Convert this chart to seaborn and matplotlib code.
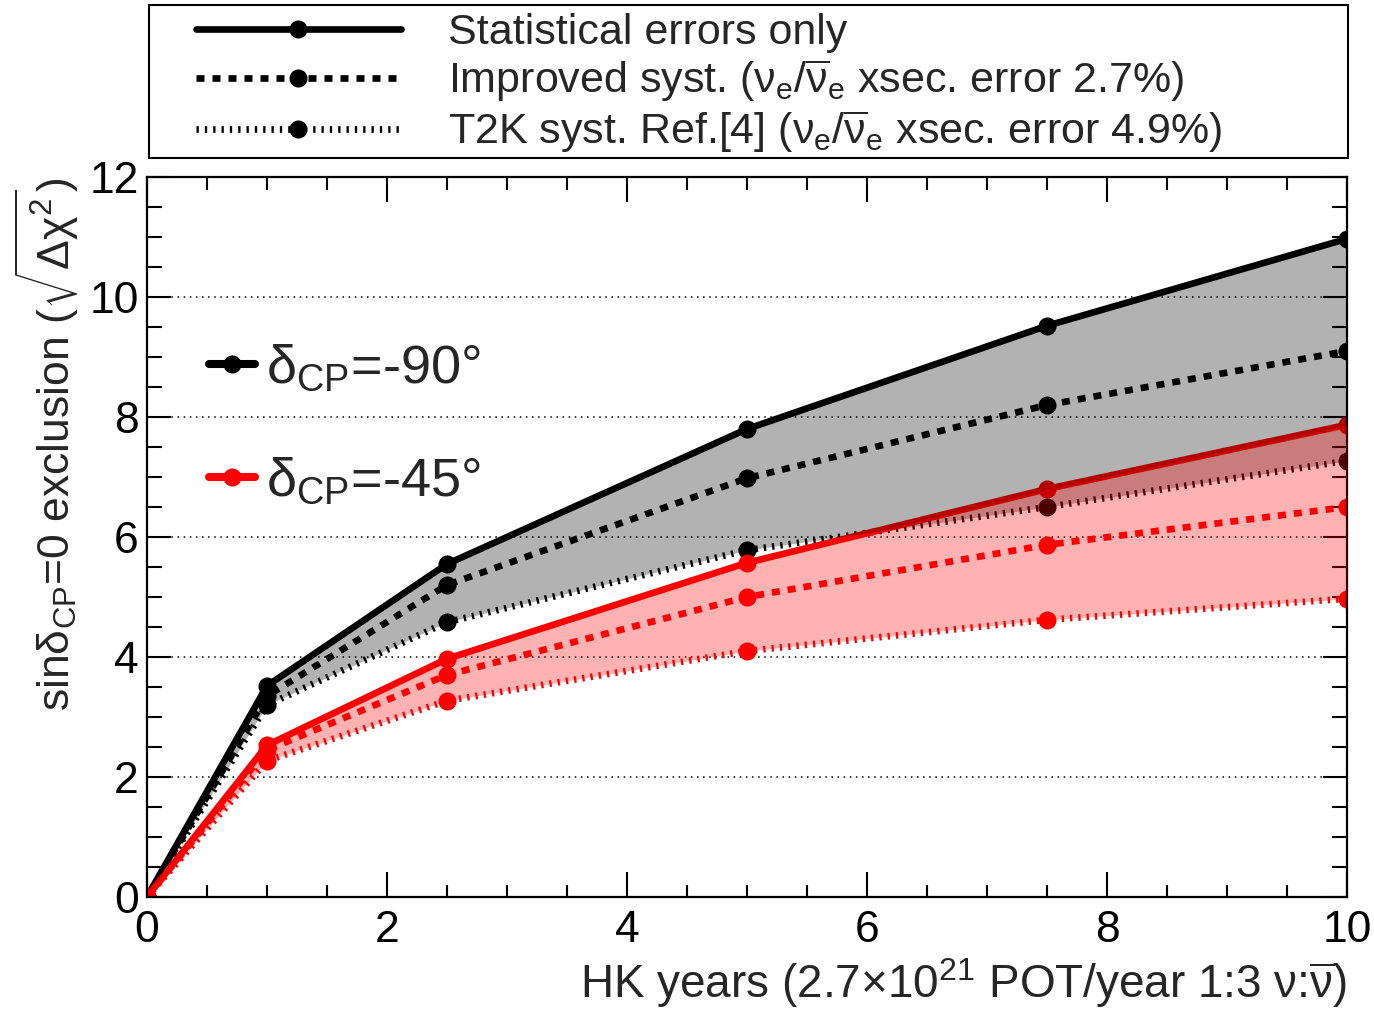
import matplotlib
matplotlib.use("Agg")
import matplotlib.pyplot as plt
import seaborn as sns
from matplotlib.lines import Line2D
from matplotlib.patches import Rectangle
from matplotlib.ticker import MultipleLocator

# ---- data ----
years = [0, 1, 2.5, 5, 7.5, 10]
m90_stat = [0, 3.52, 5.55, 7.80, 9.52, 10.97]
m90_impr = [0, 3.35, 5.20, 6.98, 8.20, 9.10]
m90_t2k = [0, 3.20, 4.58, 5.78, 6.50, 7.27]
m45_stat = [0, 2.53, 3.97, 5.57, 6.80, 7.87]
m45_impr = [0, 2.45, 3.70, 5.00, 5.87, 6.50]
m45_t2k = [0, 2.27, 3.27, 4.10, 4.62, 4.97]

legend_labels = [
    "Statistical errors only",
    r"Improved syst. ($ν_e/\overline{ν}_e$ xsec. error 2.7%)",
    r"T2K syst. Ref.[4] ($ν_e/\overline{ν}_e$ xsec. error 4.9%)",
]
delta_labels = [r"$δ_{CP}$=-90°", r"$δ_{CP}$=-45°"]
xlabel = r"HK years (2.7×10$^{21}$ POT/year 1:3 $ν$:$\overline{ν}$)"
ylabel = r"sin$δ_{CP}$=0 exclusion ($\sqrt{Δχ^{2}}$)"

sns.set_style("ticks")
plt.rcParams.update({
    "font.family": ["Liberation Sans", "DejaVu Sans"],
    "mathtext.fontset": "custom",
    "mathtext.rm": "Liberation Sans",
    "mathtext.it": "Liberation Sans:italic",
    "mathtext.bf": "Liberation Sans:bold",
    "mathtext.default": "regular",
    "axes.edgecolor": "black",
    "axes.linewidth": 1.6,
})

W, H = 1374, 1011
fig = plt.figure(figsize=(W / 100, H / 100), dpi=100)
ax = fig.add_axes([147 / W, 1 - 897 / H, 1200 / W, 720 / H])

LW = 4.8
MS = 13
styles = ["-", (0, (1.2, 1.2)), (0, (0.35, 0.9))]

for vals, ls in zip([m90_stat, m90_impr, m90_t2k], styles):
    sns.lineplot(x=years, y=vals, ax=ax, color="black", linestyle=ls, lw=LW,
                 marker="o", markersize=MS, markeredgewidth=0, errorbar=None,
                 zorder=2)
for vals, ls in zip([m45_stat, m45_impr, m45_t2k], styles):
    sns.lineplot(x=years, y=vals, ax=ax, color="red", linestyle=ls, lw=LW,
                 marker="o", markersize=MS, markeredgewidth=0, errorbar=None,
                 zorder=2)

ax.fill_between(years, m90_stat, m90_t2k, color="black", alpha=0.3, lw=0, zorder=3)
ax.fill_between(years, m45_stat, m45_t2k, color="red", alpha=0.3, lw=0, zorder=4)

ax.set_xlim(0, 10)
ax.set_ylim(0, 12)
ax.xaxis.set_major_locator(MultipleLocator(2))
ax.xaxis.set_minor_locator(MultipleLocator(0.5))
ax.yaxis.set_major_locator(MultipleLocator(2))
ax.yaxis.set_minor_locator(MultipleLocator(0.5))
ax.tick_params(which="both", direction="in", top=True, right=True, width=1.5,
               colors="black")
ax.tick_params(axis="x", which="major", length=18, labelsize=32, pad=9)
ax.tick_params(axis="x", which="minor", length=9)
ax.tick_params(axis="y", which="major", length=17, labelsize=32, pad=6)
ax.tick_params(axis="y", which="minor", length=11)
ax.grid(axis="y", which="major", color="black", linestyle=(0, (1, 3)), lw=1.1)
ax.grid(axis="x", visible=False)
for s in ax.spines.values():
    s.set_visible(True)
    s.set_linewidth(1.6)

ax.set_xlabel(xlabel, loc="right", fontsize=33, labelpad=4)
ax.set_ylabel(ylabel, loc="top", fontsize=32, labelpad=6)

# delta_CP legend inside axes
h2 = [Line2D([], [], color=c, lw=LW + 1, marker="o", ms=MS, mew=0)
      for c in ["black", "red"]]
ax.legend(h2, delta_labels, loc="center left", bbox_to_anchor=(0.052, 0.656),
          frameon=False, fontsize=39, handlelength=0.85, handletextpad=0.2,
          labelspacing=1.15, borderpad=0, borderaxespad=0)

# top legend
h1 = [Line2D([], [], color="black", lw=LW, ls=ls, marker="o", ms=MS, mew=0)
      for ls in styles]
fig.legend(h1, legend_labels, loc="upper left",
           bbox_to_anchor=(196 / W, 1 - 13 / H), frameon=False, fontsize=31,
           handlelength=4.75, handletextpad=1.1, labelspacing=0.1,
           borderpad=0, borderaxespad=0)
fig.patches.append(Rectangle((149 / W, 1 - 158 / H), 1199 / W, 153 / H,
                             transform=fig.transFigure, fill=False,
                             ec="black", lw=1.5))

fig.savefig("out.png", dpi=100)
